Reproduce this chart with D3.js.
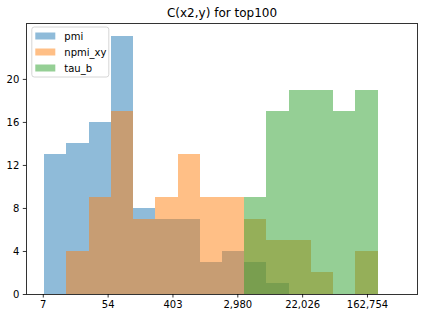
<!DOCTYPE html>
<html>
<head>
<meta charset="utf-8">
<script src="https://cdn.jsdelivr.net/npm/d3@7.9.0/dist/d3.min.js"></script>
<style>
  body { margin: 0; background: #fff; }
  svg { display: block; font-family: 'DejaVu Sans', sans-serif; }
</style>
</head>
<body>
<div id="chart"></div>
<script>
// shared bin edges (raw values, log-spaced)
const binEdges = [7.69, 15.27, 30.33, 60.22, 119.6, 237.5, 471.5, 936.4, 1859.6,
  3692, 7332, 14560, 28910, 57410, 114000, 226400, 449600];

const seriesNames = ['pmi', 'npmi_xy', 'tau_b'];
const pmiCounts = [13, 14, 16, 24, 8, 7, 7, 3, 4, 3, 1, 0, 0, 0, 0, 0];
const npmiCounts = [0, 4, 9, 17, 7, 9, 13, 9, 9, 7, 5, 5, 2, 0, 4, 0];
const taubCounts = [0, 0, 0, 0, 0, 0, 0, 0, 0, 9, 17, 19, 19, 17, 19, 0];

const xTicks = [Math.exp(2), Math.exp(4), Math.exp(6), Math.exp(8), Math.exp(10), Math.exp(12)];
const yTicks = [0, 4, 8, 12, 16, 20];
const colors = ['#1f77b4', '#ff7f0e', '#2ca02c'];

const width = 425;
const height = 315;
const margin = { top: 23, right: 7.3, bottom: 21, left: 26.3 };

const svg = d3.select('#chart')
  .append('svg')
  .attr('width', width)
  .attr('height', height);

// matplotlib-style 5% margins in log space
const lo = Math.log(binEdges[0]);
const hi = Math.log(binEdges[binEdges.length - 1]);
const pad = (hi - lo) * 0.05;

const x = d3.scaleLog()
  .base(Math.E)
  .domain([Math.exp(lo - pad), Math.exp(hi + pad)])
  .range([margin.left, width - margin.right]);

const yMax = d3.max([pmiCounts, npmiCounts, taubCounts].flat()) * 1.05;
const y = d3.scaleLinear()
  .domain([0, yMax])
  .range([height - margin.bottom, margin.top]);

const allSeries = [pmiCounts, npmiCounts, taubCounts];

allSeries.forEach((counts, i) => {
  svg.append('g')
    .selectAll('rect')
    .data(counts.map((c, k) => ({ c, x0: binEdges[k], x1: binEdges[k + 1] })).filter((d) => d.c > 0))
    .join('rect')
    .attr('x', (d) => x(d.x0))
    .attr('width', (d) => x(d.x1) - x(d.x0))
    .attr('y', (d) => y(d.c))
    .attr('height', (d) => y(0) - y(d.c))
    .attr('fill', colors[i])
    .attr('fill-opacity', 0.5)
    .attr('shape-rendering', 'crispEdges');
});

const fmt = (v) => Math.floor(v).toLocaleString('en-US');

const xAxis = svg.append('g')
  .attr('transform', `translate(0, ${height - margin.bottom})`)
  .call(d3.axisBottom(x).tickValues(xTicks).tickFormat(fmt).tickSize(3.5).tickPadding(3.5));

const yAxis = svg.append('g')
  .attr('transform', `translate(${margin.left}, 0)`)
  .call(d3.axisLeft(y).tickValues(yTicks).tickSize(3.5).tickPadding(3.5));

[xAxis, yAxis].forEach((ax) => {
  ax.select('.domain').remove();
  ax.selectAll('line').attr('stroke', '#000').attr('stroke-width', 0.8);
  ax.selectAll('text').attr('font-size', 10).attr('fill', '#000')
    .attr('font-family', "'DejaVu Sans', sans-serif");
});

// frame
svg.append('rect')
  .attr('x', margin.left)
  .attr('y', margin.top)
  .attr('width', width - margin.left - margin.right)
  .attr('height', height - margin.top - margin.bottom)
  .attr('fill', 'none')
  .attr('stroke', '#000')
  .attr('stroke-width', 0.8)
  .attr('shape-rendering', 'crispEdges');

svg.append('text')
  .attr('x', (margin.left + width - margin.right) / 2)
  .attr('y', 17)
  .attr('text-anchor', 'middle')
  .attr('font-size', 12)
  .text('C(x2,y) for top100');

// legend
const legend = svg.append('g').attr('transform', `translate(${margin.left + 5.5}, ${margin.top + 4})`);
legend.append('rect')
  .attr('width', 77)
  .attr('height', 50)
  .attr('rx', 2.5)
  .attr('fill', '#fff')
  .attr('fill-opacity', 0.8)
  .attr('stroke', '#ccc')
  .attr('stroke-width', 0.8);

seriesNames.forEach((name, i) => {
  const row = legend.append('g').attr('transform', `translate(3.5, ${9 + i * 16})`);
  row.append('rect')
    .attr('x', 0)
    .attr('y', -3.5)
    .attr('width', 20)
    .attr('height', 7)
    .attr('fill', colors[i])
    .attr('fill-opacity', 0.5);
  row.append('text')
    .attr('x', 29)
    .attr('y', 3.5)
    .attr('font-size', 10)
    .text(name);
});
</script>
</body>
</html>
